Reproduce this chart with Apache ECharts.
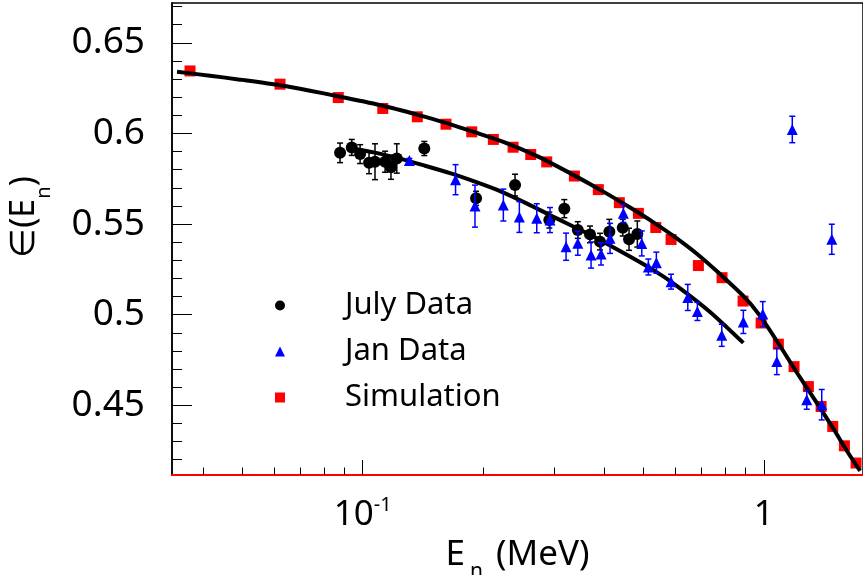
<!DOCTYPE html>
<html><head><meta charset="utf-8">
<script src="https://cdn.jsdelivr.net/npm/echarts@6/dist/echarts.min.js"></script>
<style>html,body{margin:0;padding:0;background:#fff}#c{width:863px;height:575px}</style>
</head><body><div id="c"></div>
<script>
// Simulation (red squares)
const simX = [0.0371, 0.0622, 0.0869, 0.1122, 0.1368, 0.1613, 0.187, 0.2117, 0.2371, 0.2624, 0.2876, 0.3371, 0.3868, 0.4364, 0.4868, 0.538, 0.5873, 0.6871, 0.787, 0.888, 0.985, 1.0875, 1.19, 1.292, 1.39, 1.486, 1.589, 1.699];
const simY = [0.6345, 0.6272, 0.6198, 0.6138, 0.6092, 0.6051, 0.6009, 0.5967, 0.5924, 0.5884, 0.5843, 0.5765, 0.569, 0.5618, 0.5559, 0.5481, 0.5415, 0.5271, 0.5204, 0.5075, 0.4954, 0.4837, 0.4713, 0.4603, 0.4493, 0.4383, 0.4276, 0.4181];
// July data (black circles)
const julyX = [0.0878, 0.0939, 0.0985, 0.1037, 0.1073, 0.1137, 0.1176, 0.1216, 0.1424, 0.1917, 0.2398, 0.2919, 0.3182, 0.3438, 0.3688, 0.3906, 0.4121, 0.445, 0.4614, 0.4839];
const julyY = [0.5893, 0.5923, 0.5886, 0.5838, 0.5844, 0.5844, 0.5813, 0.5862, 0.5917, 0.5642, 0.5715, 0.5522, 0.5585, 0.5467, 0.5443, 0.5403, 0.5458, 0.548, 0.5416, 0.5445];
const julyErr = [0.0054, 0.0044, 0.0052, 0.006, 0.0099, 0.0058, 0.0066, 0.0081, 0.0039, 0.0039, 0.006, 0.0044, 0.005, 0.0046, 0.0046, 0.0046, 0.0068, 0.0046, 0.0061, 0.0072];
// Jan data (blue triangles)
const janX = [0.1307, 0.1704, 0.1905, 0.2242, 0.2458, 0.2716, 0.2931, 0.3214, 0.3438, 0.371, 0.3929, 0.4137, 0.4466, 0.4964, 0.5155, 0.5398, 0.5873, 0.6465, 0.6832, 0.7858, 0.8894, 0.9943, 1.078, 1.178, 1.28, 1.395, 1.478];
const janY = [0.5851, 0.5745, 0.5599, 0.5605, 0.5539, 0.5532, 0.5522, 0.5375, 0.5394, 0.5329, 0.5335, 0.5421, 0.5559, 0.5393, 0.5263, 0.5287, 0.5182, 0.5095, 0.5018, 0.4886, 0.496, 0.5003, 0.4742, 0.6022, 0.453, 0.4503, 0.5416];
const janErr = [0.0011, 0.0083, 0.0116, 0.0088, 0.0085, 0.008, 0.0069, 0.0075, 0.0066, 0.0072, 0.0061, 0.0083, 0.005, 0.0069, 0.0044, 0.0058, 0.0041, 0.0072, 0.005, 0.0061, 0.0064, 0.0069, 0.0073, 0.0073, 0.0052, 0.0084, 0.0083];
// Fit curves
const fitSimX = [0.03443, 0.04161, 0.04943, 0.0622, 0.07389, 0.0878, 0.1123, 0.1366, 0.1604, 0.1884, 0.2242, 0.2721, 0.3289, 0.3981, 0.4641, 0.5297, 0.6009, 0.682, 0.778, 0.8894, 0.979, 1.098, 1.211, 1.356, 1.492, 1.611, 1.739];
const fitSimY = [0.634, 0.6319, 0.6297, 0.6266, 0.6236, 0.6203, 0.6153, 0.6104, 0.606, 0.601, 0.5954, 0.5875, 0.5781, 0.5679, 0.5591, 0.5511, 0.5428, 0.5335, 0.5224, 0.5103, 0.4993, 0.4827, 0.4678, 0.4513, 0.437, 0.4249, 0.4138];
const fitJulyX = [0.0939, 0.1073, 0.1239, 0.143, 0.1651, 0.1905, 0.22, 0.2569, 0.2982, 0.3626, 0.4381, 0.5297, 0.6078, 0.7346, 0.8894];
const fitJulyY = [0.5917, 0.5894, 0.5861, 0.5822, 0.5781, 0.5734, 0.5682, 0.5613, 0.5541, 0.5449, 0.5351, 0.5247, 0.5158, 0.5015, 0.4844];
// Axis ticks
const xMajor = [0.1, 1];
const xMinor = [0.04, 0.05, 0.06, 0.07, 0.08, 0.09, 0.2, 0.3, 0.4, 0.5, 0.6, 0.7, 0.8, 0.9];
const yMajor = [0.45, 0.5, 0.55, 0.6, 0.65];
const yMinor = [0.42, 0.43, 0.44, 0.46, 0.47, 0.48, 0.49, 0.51, 0.52, 0.53, 0.54, 0.56, 0.57, 0.58, 0.59, 0.61, 0.62, 0.63, 0.64, 0.66, 0.67];

const FONT = 'Noto Sans';
const X_MIN = 0.03345, X_MAX = 1.768, Y_MIN = 0.4115, Y_MAX = 0.672;

function zip(a, b) { return a.map((v, i) => [v, b[i]]); }
function errSeries(xs, ys, es, color, z) {
  return {
    type: 'custom', z: z, silent: true,
    data: xs.map((x, i) => [x, ys[i] - es[i], ys[i] + es[i]]),
    encode: { x: 0, y: [1, 2] },
    renderItem: function (params, api) {
      const lo = api.coord([api.value(0), api.value(1)]);
      const hi = api.coord([api.value(0), api.value(2)]);
      const w = 3, st = { stroke: color, lineWidth: 1.5 };
      return { type: 'group', children: [
        { type: 'line', shape: { x1: lo[0], y1: lo[1], x2: hi[0], y2: hi[1] }, style: st },
        { type: 'line', shape: { x1: lo[0] - w, y1: lo[1], x2: lo[0] + w, y2: lo[1] }, style: st },
        { type: 'line', shape: { x1: hi[0] - w, y1: hi[1], x2: hi[0] + w, y2: hi[1] }, style: st }
      ] };
    }
  };
}

const chart = echarts.init(document.getElementById('c'), null, { renderer: 'canvas' });
chart.setOption({
  animation: false,
  backgroundColor: '#fff',
  textStyle: { fontFamily: FONT },
  grid: { left: 172, right: 0, top: 3, bottom: 100, show: true, borderColor: '#000', borderWidth: 1.5,
          containLabel: false, outerBoundsMode: 'none' },
  legend: {
    data: [{ name: 'July Data', icon: 'circle' }, { name: 'Jan Data', icon: 'triangle' }, { name: 'Simulation', icon: 'rect' }],
    orient: 'vertical', left: 270, top: 285, itemWidth: 10, itemHeight: 10, itemGap: 15, selectedMode: false,
    textStyle: { fontSize: 31, fontFamily: FONT, color: '#000', padding: [0, 0, 0, 55] }
  },
  xAxis: [{
    type: 'log', min: X_MIN, max: X_MAX, logBase: 10,
    name: '{a|E}{n|n}{a| (MeV)}', nameLocation: 'middle', nameGap: 40,
    nameTextStyle: { rich: {
      a: { fontSize: 35, fontFamily: FONT, color: '#000', lineHeight: 56, verticalAlign: 'middle' },
      n: { fontSize: 21, fontFamily: FONT, color: '#000', lineHeight: 22, verticalAlign: 'bottom', padding: [0, 4, 0, 5] } } },
    axisLine: { show: true, onZero: false, lineStyle: { color: '#ff0000', width: 2 } },
    axisTick: { show: true, inside: true, length: 15, customValues: xMajor, lineStyle: { color: '#000', width: 1 } },
    axisLabel: { show: true, margin: 20, customValues: xMajor, color: '#000',
      formatter: v => (v < 0.5 ? '{b|10}{s|-1}' : '{b|1}'),
      rich: { b: { fontSize: 35, fontFamily: FONT, color: '#000', lineHeight: 40 },
              s: { fontSize: 20, fontFamily: FONT, color: '#000', lineHeight: 22, verticalAlign: 'top' } } },
    splitLine: { show: false }, minorTick: { show: false }
  }, {
    type: 'log', min: X_MIN, max: X_MAX, logBase: 10, position: 'bottom',
    axisLine: { show: false }, axisLabel: { show: false }, splitLine: { show: false },
    axisTick: { show: true, inside: true, length: 7.5, customValues: xMinor, lineStyle: { color: '#000', width: 1 } }
  }],
  yAxis: [{
    type: 'value', min: Y_MIN, max: Y_MAX,
    name: '{a|∈(E}{n|n}{a|)}', nameLocation: 'middle', nameGap: 118, nameRotate: 90,
    nameTextStyle: { padding: [0, 0, 0, 44], rich: {
      a: { fontSize: 34, fontFamily: FONT, color: '#000', lineHeight: 60, verticalAlign: 'middle' },
      n: { fontSize: 20, fontFamily: FONT, color: '#000', lineHeight: 22, verticalAlign: 'bottom' } } },
    axisLine: { show: true, onZero: false, lineStyle: { color: '#000', width: 1.5 } },
    axisTick: { show: true, inside: true, length: 20, customValues: yMajor, lineStyle: { color: '#000', width: 1 } },
    axisLabel: { show: true, margin: 27, customValues: yMajor, fontSize: 37, fontFamily: FONT, color: '#000',
      formatter: v => String(+(+v).toFixed(2)) },
    splitLine: { show: false }
  }, {
    type: 'value', min: Y_MIN, max: Y_MAX, position: 'left',
    axisLine: { show: false }, axisLabel: { show: false }, splitLine: { show: false },
    axisTick: { show: true, inside: true, length: 10, customValues: yMinor, lineStyle: { color: '#000', width: 1 } }
  }],
  series: [
    { name: 'Simulation', type: 'scatter', z: 2, symbol: 'rect', symbolSize: 11,
      itemStyle: { color: '#ff0000', opacity: 1 }, data: zip(simX, simY) },
    { name: 'fitSim', type: 'line', z: 3, smooth: 0.25, symbol: 'none', silent: true,
      lineStyle: { color: '#000', width: 4 }, data: zip(fitSimX, fitSimY) },
    { name: 'fitJuly', type: 'line', z: 3, smooth: 0.25, symbol: 'none', silent: true,
      lineStyle: { color: '#000', width: 4 }, data: zip(fitJulyX, fitJulyY) },
    errSeries(julyX, julyY, julyErr, '#000', 4),
    { name: 'July Data', type: 'scatter', z: 5, symbol: 'circle', symbolSize: 12,
      itemStyle: { color: '#000', opacity: 1 }, data: zip(julyX, julyY) },
    errSeries(janX, janY, janErr, '#0000ff', 6),
    { name: 'Jan Data', type: 'scatter', z: 7, symbol: 'triangle', symbolSize: 11,
      itemStyle: { color: '#0000ff', opacity: 1 }, data: zip(janX, janY) }
  ]
});
</script></body></html>
